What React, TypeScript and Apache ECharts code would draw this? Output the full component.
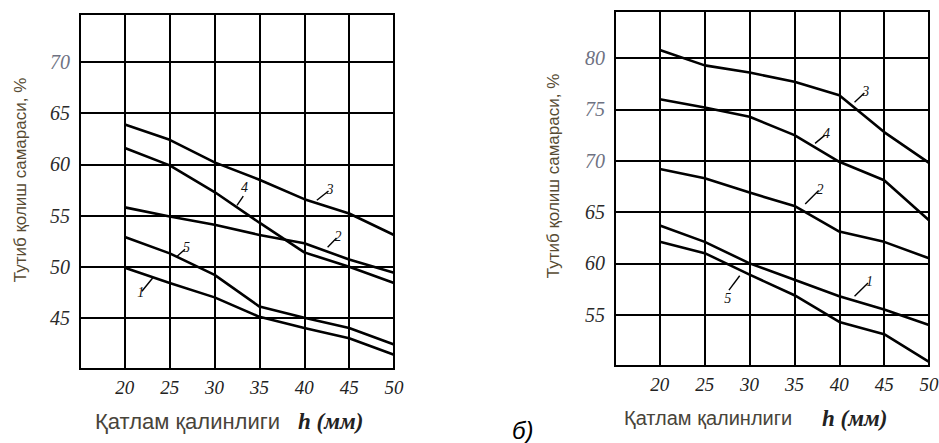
import React, { useEffect, useRef } from "react";
import * as echarts from "echarts";

// Thickness h (mm)
const thickness = [20, 25, 30, 35, 40, 45, 50];
const xLabelled = [20, 25, 30, 35, 40, 45, 50];

// Left panel (a)
const leftYLabelled = [45, 50, 55, 60, 65, 70];
const left1 = [49.9, 48.4, 47.0, 45.1, 44.0, 43.0, 41.4];
const left2 = [55.8, 54.9, 54.1, 53.1, 52.3, 50.7, 49.4];
const left3 = [63.9, 62.4, 60.2, 58.5, 56.6, 55.2, 53.1];
const left4 = [61.6, 59.9, 57.3, 54.3, 51.4, 50.0, 48.4];
const left5 = [52.9, 51.3, 49.2, 46.1, 45.0, 44.0, 42.4];

// Right panel (б)
const rightYLabelled = [55, 60, 65, 70, 75, 80];
const right1 = [63.7, 62.1, 60.0, 58.4, 56.8, 55.5, 54.0];
const right2 = [69.2, 68.3, 66.9, 65.6, 63.1, 62.1, 60.5];
const right3 = [80.8, 79.3, 78.6, 77.7, 76.4, 72.8, 69.8];
const right4 = [76.0, 75.2, 74.3, 72.5, 69.9, 68.1, 64.2];
const right5 = [62.1, 61.0, 58.9, 56.9, 54.3, 53.1, 50.4];

// Curve-number callouts: [name, fromX, fromY, toX, toY]
const leftCallouts: [string, number, number, number, number][] = [
  ["1", 23.1, 48.9, 21.9, 47.6],
  ["2", 42.6, 51.9, 43.6, 52.8],
  ["3", 41.4, 56.5, 42.7, 57.4],
  ["4", 32.5, 56.0, 33.2, 56.9],
  ["5", 25.8, 51.0, 26.7, 51.7],
];
const rightCallouts: [string, number, number, number, number][] = [
  ["1", 41.7, 56.8, 43.2, 58.1],
  ["2", 36.2, 65.8, 37.7, 67.1],
  ["3", 41.7, 75.7, 42.8, 76.6],
  ["4", 37.3, 71.7, 38.4, 72.5],
  ["5", 28.9, 58.8, 27.7, 57.4],
];

const X_MIN = 15;
const X_MAX = 50;
const LEFT_Y_MIN = 40;
const LEFT_Y_MAX = 74.7;
const RIGHT_Y_MIN = 50;
const RIGHT_Y_MAX = 84.6;

const NUM_FONT_CALLOUT = "italic 14px 'Liberation Serif', 'DejaVu Serif', serif";
const TICK_FONT_X = "italic 19px 'Liberation Serif', 'DejaVu Serif', serif";
const TICK_FONT_Y = "italic 20px 'Liberation Serif', 'DejaVu Serif', serif";

function makeSeries(
  values: number[],
  callout: [string, number, number, number, number],
  gridIdx: number
) {
  const [name, x1, y1, x2, y2] = callout;
  return {
    type: "line",
    name: name,
    xAxisIndex: gridIdx,
    yAxisIndex: gridIdx,
    data: thickness.map((h, i) => [h, values[i]]),
    showSymbol: false,
    symbol: "none",
    lineStyle: { color: "#000", width: 2.6 },
    silent: true,
    markLine: {
      silent: true,
      symbol: ["none", "none"],
      lineStyle: { color: "#000", width: 1.4, type: "solid" },
      label: {
        show: true,
        position: "end",
        formatter: name,
        color: "#111",
        fontSize: 14,
        distance: 2,
        fontFamily: "Liberation Serif",
        fontStyle: "italic",
      },
      data: [[{ coord: [x1, y1] }, { coord: [x2, y2] }]],
    },
  };
}

export default function App() {
  const ref = useRef<HTMLDivElement>(null);
  useEffect(() => {
    if (!ref.current) return;
    const chart = echarts.init(ref.current, null, { renderer: "svg" });

    const xAxisBase = (gridIndex: number) => ({
      type: "value",
      gridIndex,
      min: X_MIN,
      max: X_MAX,
      interval: 5,
      axisLine: { show: false },
      axisTick: { show: false },
      axisLabel: { show: false },
      splitLine: { show: true, lineStyle: { color: "#000", width: 2 } },
    });

    const yAxisBase = (gridIndex: number, min: number, max: number) => ({
      type: "value",
      gridIndex,
      min,
      max,
      interval: 5,
      axisLine: { show: false },
      axisTick: { show: false },
      axisLabel: { show: false },
      splitLine: { show: true, lineStyle: { color: "#000", width: 2 } },
    });

    const gridOpts = [
      { left: 80, top: 14, width: 314, height: 355 },
      { left: 615, top: 11, width: 314, height: 355 },
    ];

    const titles: any[] = [
      {
        type: "text",
        x: 20,
        y: 180,
        rotation: Math.PI / 2,
        style: {
          text: "Тутиб қолиш самараси, %",
          font: "17px 'Liberation Sans', Arial, sans-serif",
          fill: "#574b33",
          align: "center",
          verticalAlign: "middle",
        },
      },
      {
        type: "text",
        x: 553,
        y: 176,
        rotation: Math.PI / 2,
        style: {
          text: "Тутиб қолиш самараси, %",
          font: "17px 'Liberation Sans', Arial, sans-serif",
          fill: "#574b33",
          align: "center",
          verticalAlign: "middle",
        },
      },
      {
        type: "text",
        x: 95,
        y: 421,
        style: {
          text: "Қатлам қалинлиги",
          font: "22px 'Liberation Sans', Arial, sans-serif",
          fill: "#48443a",
          align: "left",
          verticalAlign: "middle",
        },
      },
      {
        type: "text",
        x: 298,
        y: 421,
        style: {
          text: "h (мм)",
          font: "italic bold 23px 'Liberation Serif', serif",
          fill: "#222",
          align: "left",
          verticalAlign: "middle",
        },
      },
      {
        type: "text",
        x: 624,
        y: 418,
        style: {
          text: "Қатлам қалинлиги",
          font: "20px 'Liberation Sans', Arial, sans-serif",
          fill: "#48443a",
          align: "left",
          verticalAlign: "middle",
        },
      },
      {
        type: "text",
        x: 822,
        y: 418,
        style: {
          text: "h (мм)",
          font: "italic bold 23px 'Liberation Serif', serif",
          fill: "#222",
          align: "left",
          verticalAlign: "middle",
        },
      },
      {
        type: "text",
        x: 512,
        y: 430,
        style: {
          text: "б)",
          font: "italic 24px 'Liberation Sans', Arial, sans-serif",
          fill: "#000",
          align: "left",
          verticalAlign: "middle",
        },
      },
    ];

    const option: any = {
      animation: false,
      backgroundColor: "#fff",
      grid: gridOpts.map((g) => ({
        ...g,
        show: true,
        borderColor: "#000",
        borderWidth: 2,
        backgroundColor: "transparent",
      })),
      xAxis: [xAxisBase(0), xAxisBase(1)],
      yAxis: [yAxisBase(0, LEFT_Y_MIN, LEFT_Y_MAX), yAxisBase(1, RIGHT_Y_MIN, RIGHT_Y_MAX)],
      series: [
        makeSeries(left1, leftCallouts[0], 0),
        makeSeries(left2, leftCallouts[1], 0),
        makeSeries(left3, leftCallouts[2], 0),
        makeSeries(left4, leftCallouts[3], 0),
        makeSeries(left5, leftCallouts[4], 0),
        makeSeries(right1, rightCallouts[0], 1),
        makeSeries(right2, rightCallouts[1], 1),
        makeSeries(right3, rightCallouts[2], 1),
        makeSeries(right4, rightCallouts[3], 1),
        makeSeries(right5, rightCallouts[4], 1),
      ],
      graphic: { elements: titles },
    };
    chart.setOption(option);

    // Map a data point to pixels through the chart's own scales.
    const yRanges = [
      [LEFT_Y_MIN, LEFT_Y_MAX],
      [RIGHT_Y_MIN, RIGHT_Y_MAX],
    ];
    const toPixel = (gridIdx: number, pt: [number, number]): [number, number] => {
      try {
        const r: any = chart.convertToPixel(
          { xAxisIndex: gridIdx, yAxisIndex: gridIdx } as any,
          pt as any
        );
        if (r && isFinite(r[0]) && isFinite(r[1])) return [r[0], r[1]];
      } catch (e) {}
      try {
        const gm: any = (chart as any).getModel().getComponent("grid", gridIdx);
        const cart = gm.coordinateSystem.getCartesians()[0];
        const r = cart.dataToPoint(pt);
        if (r && isFinite(r[0]) && isFinite(r[1])) return [r[0], r[1]];
      } catch (e) {}
      const g = gridOpts[gridIdx];
      const [y0, y1] = yRanges[gridIdx];
      return [
        g.left + ((pt[0] - X_MIN) / (X_MAX - X_MIN)) * g.width,
        g.top + g.height - ((pt[1] - y0) / (y1 - y0)) * g.height,
      ];
    };

    const tickTexts: any[] = [];
    const panels = [
      { grid: 0, yMin: LEFT_Y_MIN, ys: leftYLabelled },
      { grid: 1, yMin: RIGHT_Y_MIN, ys: rightYLabelled },
    ];
    for (const p of panels) {
      for (const xv of xLabelled) {
        const pt = toPixel(p.grid, [xv, p.yMin]);
        tickTexts.push({
          type: "text",
          x: pt[0],
          y: pt[1] + 9,
          silent: true,
          style: { text: String(xv), font: TICK_FONT_X, fill: "#222", align: "center", verticalAlign: "top" },
        });
      }
      for (const yv of p.ys) {
        const pt = toPixel(p.grid, [X_MIN, yv]);
        tickTexts.push({
          type: "text",
          x: pt[0] - 10,
          y: pt[1],
          silent: true,
          style: {
            text: String(yv),
            font: TICK_FONT_Y,
            fill: yv >= 70 ? "#6e7282" : "#2a2a2a",
            align: "right",
            verticalAlign: "middle",
          },
        });
      }
    }

    chart.setOption({ graphic: { elements: [...titles, ...tickTexts] } });

    return () => chart.dispose();
  }, []);
  return (
    <div
      ref={ref}
      style={{ position: "fixed", left: 0, top: 0, width: 939, height: 443, background: "#fff" }}
    />
  );
}
